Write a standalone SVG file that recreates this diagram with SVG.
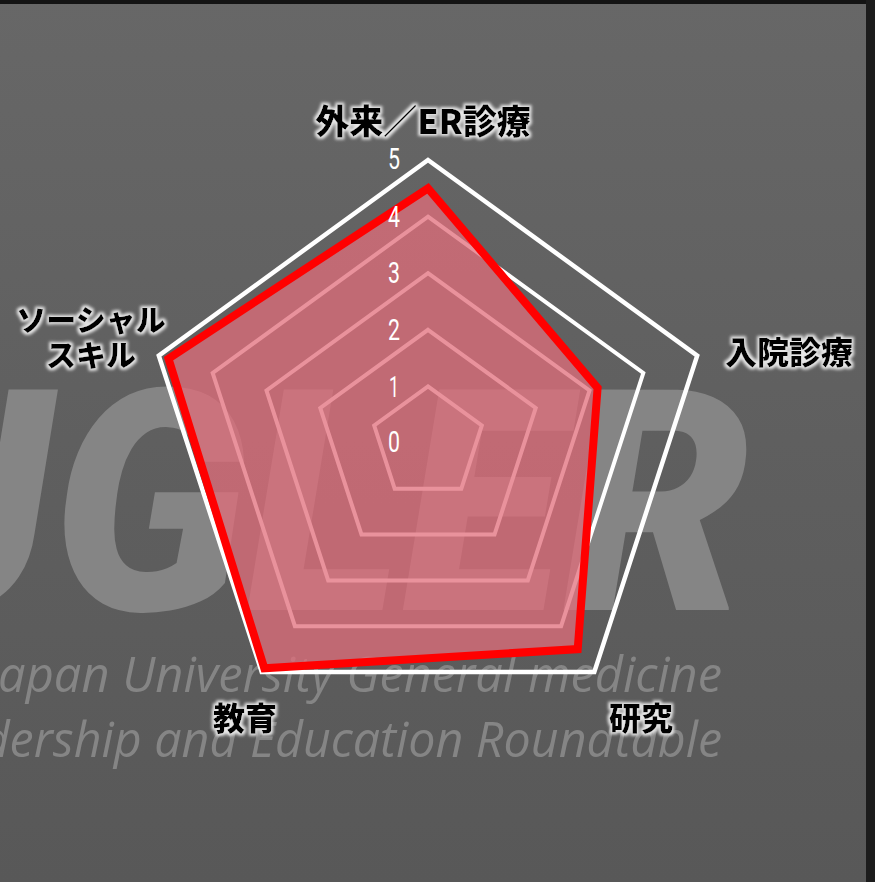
<svg xmlns="http://www.w3.org/2000/svg" width="875" height="882" viewBox="0 0 875 882">
  <defs>
    <style>
      .grid { fill: none; stroke: #ffffff; stroke-width: 4; stroke-linejoin: miter; }
      .outer { fill: none; stroke: #ffffff; stroke-width: 4.5; stroke-linejoin: miter; }
      .tick { font-family: Roboto, "Liberation Sans", sans-serif; font-size: 29px; fill: #ffffff; }
      .lbl { font-family: "Noto Sans CJK JP", "Noto Sans", sans-serif; font-weight: 900; fill: #000000; filter: url(#halo); }
      .wm { font-family: "Open Sans", "Liberation Sans", sans-serif; font-style: italic; font-weight: 400; font-size: 50px; fill: #858585; }
    </style>
    <filter id="halo" x="-20%" y="-30%" width="140%" height="160%">
      <feMorphology in="SourceAlpha" operator="dilate" radius="2.2" result="d"/>
      <feGaussianBlur in="d" stdDeviation="1.6" result="b"/>
      <feFlood flood-color="#e6e6e6"/>
      <feComposite in2="b" operator="in" result="g"/>
      <feMerge>
        <feMergeNode in="g"/>
        <feMergeNode in="SourceGraphic"/>
      </feMerge>
    </filter>
    <linearGradient id="bg" x1="0" y1="0" x2="0" y2="1">
      <stop offset="0" stop-color="#676767"/>
      <stop offset="0.5" stop-color="#5f5f5f"/>
      <stop offset="1" stop-color="#585858"/>
    </linearGradient>
  </defs>

  <!-- background -->
  <g id="background">
    <rect x="0" y="0" width="875" height="882" fill="url(#bg)"/>
    <rect x="0" y="0" width="875" height="4" fill="#141414"/>
    <rect x="866" y="0" width="9" height="882" fill="#1c1c1c"/>
    <text x="-300" y="610" font-family="Roboto, 'Liberation Sans', sans-serif" font-weight="900" font-style="italic" font-size="310" fill="#858585" textLength="1050" lengthAdjust="spacingAndGlyphs">JUGLER</text>
    <text class="wm" x="-15" y="692" textLength="737" lengthAdjust="spacingAndGlyphs">Japan University General medicine</text>
    <text class="wm" x="-93" y="757" textLength="815" lengthAdjust="spacingAndGlyphs">Leadership and Education Roundtable</text>
  </g>

  <!-- grid -->
  <g id="grid">
    <polygon class="grid" points="428,386.4 481.8,425.5 461.3,488.8 394.7,488.8 374.2,425.5"/>
    <polygon class="grid" points="428,329.8 535.7,408.0 494.5,534.6 361.5,534.6 320.3,408.0"/>
    <polygon class="grid" points="428,273.2 589.5,390.5 527.8,580.4 328.2,580.4 266.5,390.5"/>
    <polygon class="grid" points="428,216.6 643.3,373.0 561.1,626.2 294.9,626.2 212.7,373.0"/>
    <polygon class="outer" points="428,160 697.2,355.6 594.3,672.0 261.7,672.0 158.8,355.6"/>
  </g>

  <!-- data -->
  <g id="connectors">
    <polygon id="data" points="428,188.3 597.6,387.9 577.7,649.1 264.3,668.3 168.5,358.7" fill="rgb(226,110,123)" fill-opacity="0.75" stroke="#ff0000" stroke-width="8" stroke-linejoin="miter"/>
  </g>

  <!-- scale ticks -->
  <g id="ticks">
    <text class="tick" x="388" y="169" textLength="12" lengthAdjust="spacingAndGlyphs">5</text>
    <text class="tick" x="388" y="227" textLength="12" lengthAdjust="spacingAndGlyphs">4</text>
    <text class="tick" x="388" y="283" textLength="12" lengthAdjust="spacingAndGlyphs">3</text>
    <text class="tick" x="388" y="340" textLength="12" lengthAdjust="spacingAndGlyphs">2</text>
    <text class="tick" x="389" y="397" textLength="10" lengthAdjust="spacingAndGlyphs">1</text>
    <text class="tick" x="388" y="452" textLength="12" lengthAdjust="spacingAndGlyphs">0</text>
  </g>

  <!-- axis labels -->
  <g id="label-outpatient">
    <text class="lbl" x="423" y="134" font-size="34" text-anchor="middle">外来／ER診療</text>
  </g>
  <g id="label-inpatient">
    <text class="lbl" x="725" y="364" font-size="32">入院診療</text>
  </g>
  <g id="label-research">
    <text class="lbl" x="641" y="730" font-size="32" text-anchor="middle">研究</text>
  </g>
  <g id="label-education">
    <text class="lbl" x="245" y="730" font-size="32" text-anchor="middle">教育</text>
  </g>
  <g id="label-social">
    <text class="lbl" x="91" y="331" font-size="30" text-anchor="middle">ソーシャル</text>
    <text class="lbl" x="91" y="366" font-size="30" text-anchor="middle">スキル</text>
  </g>
</svg>
